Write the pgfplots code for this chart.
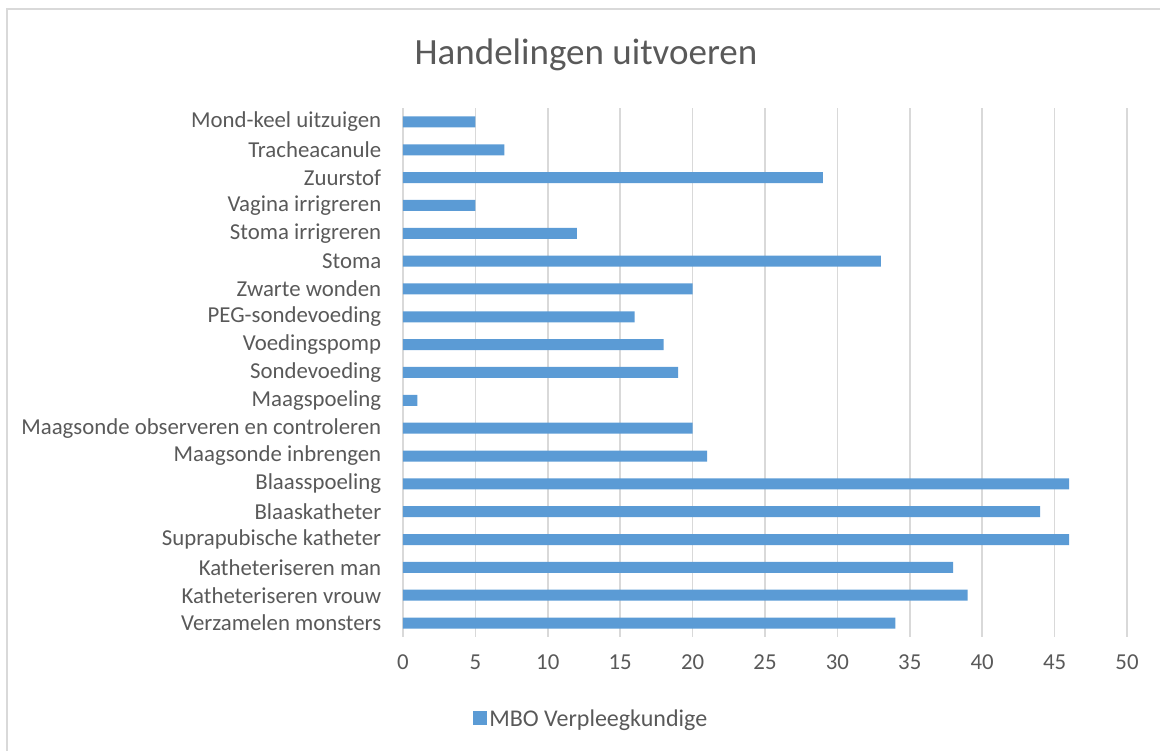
\documentclass[border=0pt]{standalone}
\usepackage{pgfplots}
\pgfplotsset{compat=1.18}
\usepackage{fontspec}
\setmainfont{Carlito}
\definecolor{barblue}{HTML}{5B9BD5}
\definecolor{txtgray}{HTML}{595959}
\definecolor{gridgray}{HTML}{D9D9D9}

\begin{document}
\begin{tikzpicture}[x=1pt,y=1pt]
\useasboundingbox (0,0) rectangle (1160,751);
% chart frame
\draw[gridgray, line width=1.2pt] (7,-10) rectangle (1175,742);
\node[txtgray, font=\fontsize{37}{44}\selectfont] at (586,696) {Handelingen uitvoeren};
\begin{axis}[
    at={(403pt,114pt)}, anchor=south west,
    scale only axis,
    width=724pt, height=529pt,
    xbar, bar width=11pt,
    xmin=0, xmax=50, xtick distance=5,
    ymin=-0.5, ymax=18.5,
    ytick={0,...,18},
    yticklabels={Verzamelen monsters, Katheteriseren vrouw, Katheteriseren man,
      Suprapubische katheter, Blaaskatheter, Blaasspoeling, Maagsonde inbrengen,
      Maagsonde observeren en controleren, Maagspoeling, Sondevoeding,
      Voedingspomp, PEG-sondevoeding, Zwarte wonden, Stoma, Stoma irrigreren,
      Vagina irrigreren, Zuurstof, Tracheacanule, Mond-keel uitzuigen},
    /pgf/number format/assume math mode=true,
    axis line style={draw=none},
    tick style={draw=none},
    xmajorgrids, major grid style={gridgray, line width=1.5pt},
    tick label style={font=\fontsize{22.8}{27}\selectfont, text=txtgray},
    xticklabel shift=14pt,
    yticklabel shift=14pt,
    legend style={draw=none, fill=none, at={(axis description cs:0.26,-0.155)},
      anchor=center, font=\fontsize{24}{28}\selectfont, text=txtgray},
    legend image code/.code={\fill[barblue] (0pt,-6.5pt) rectangle (14pt,7.5pt);},
]
\addplot[fill=barblue, draw=none] coordinates {
    (34,0) (39,1) (38,2) (46,3) (44,4) (46,5) (21,6) (20,7) (1,8) (19,9)
    (18,10) (16,11) (20,12) (33,13) (12,14) (5,15) (29,16) (7,17) (5,18)
};
\addlegendentry{MBO Verpleegkundige}
\end{axis}
\end{tikzpicture}
\end{document}
